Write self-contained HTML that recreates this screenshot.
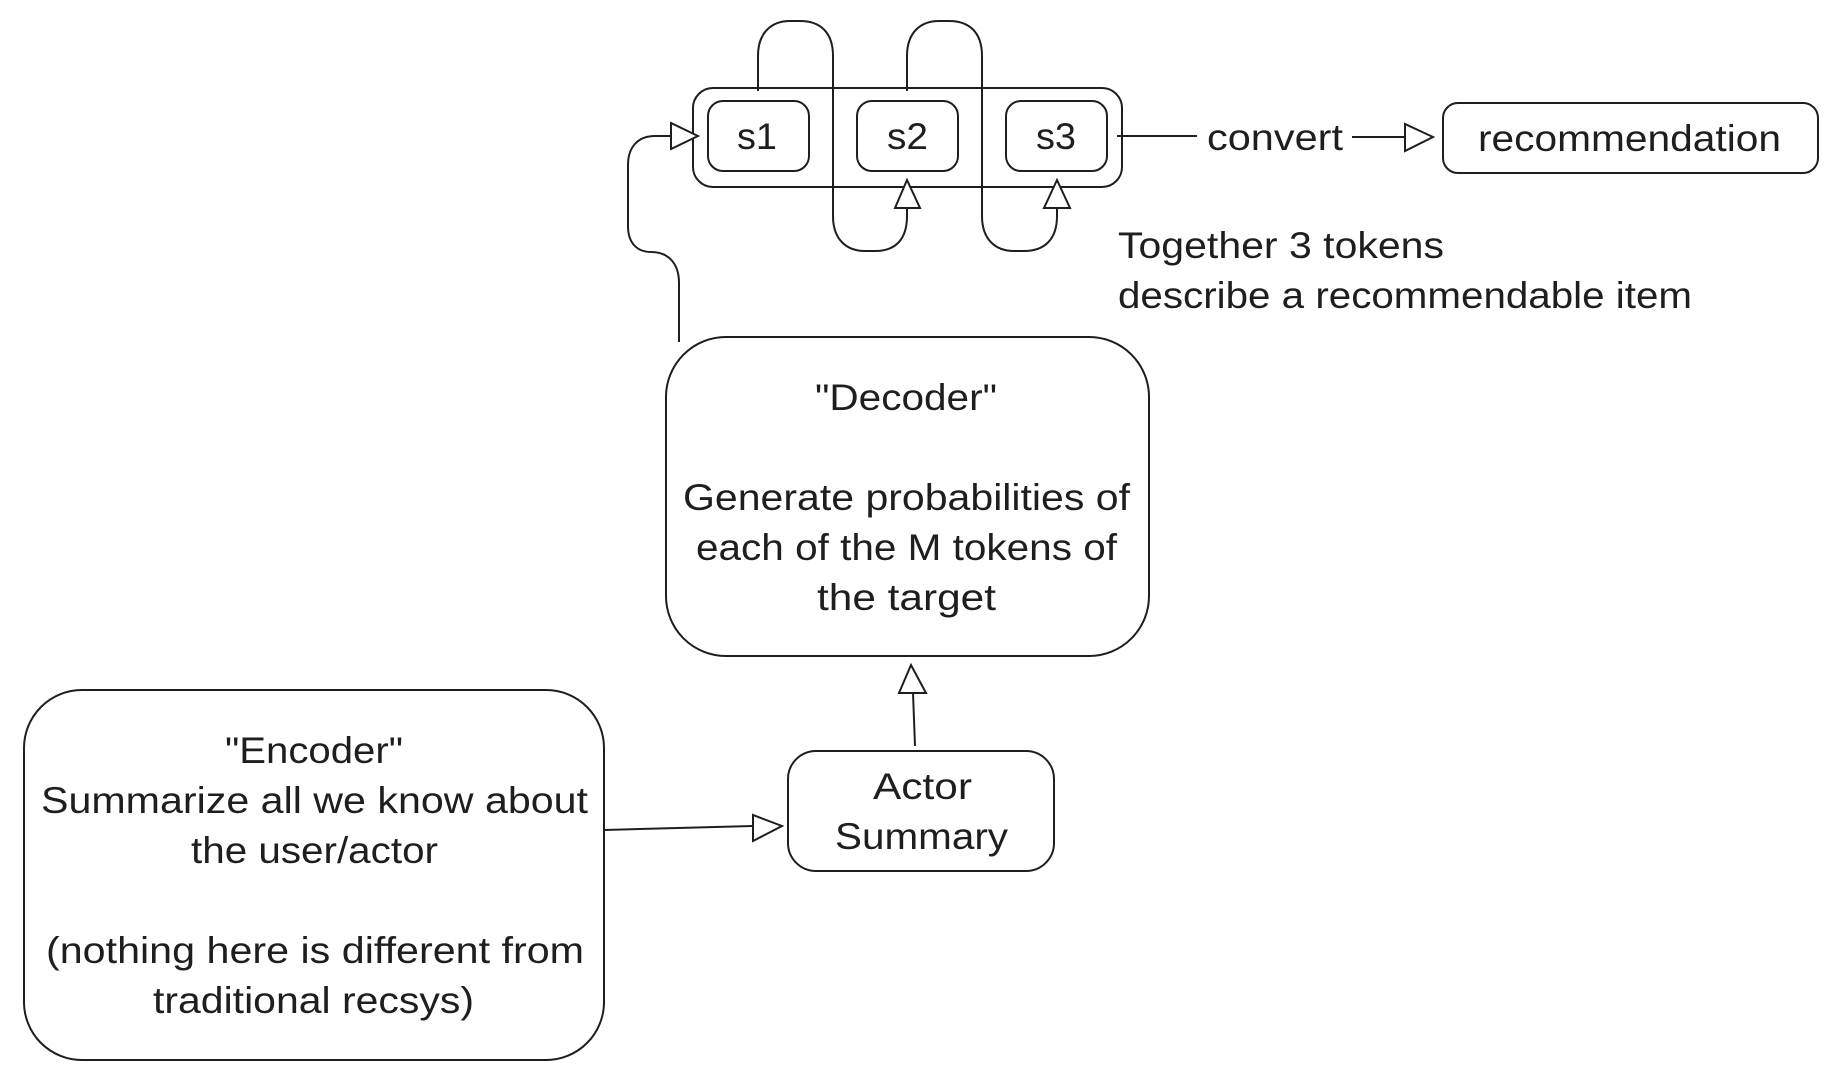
<!DOCTYPE html>
<html>
<head>
<meta charset="utf-8">
<style>
html,body{margin:0;padding:0;background:#fff;width:1834px;height:1090px;overflow:hidden}
svg{display:block}
text{font-family:"Liberation Sans",sans-serif;font-size:37.5px;fill:#1e1e1e}
.b{fill:none;stroke:#1e1e1e;stroke-width:2}
.a{fill:#fff;stroke:#1e1e1e;stroke-width:2;stroke-linejoin:miter}
</style>
</head>
<body>
<svg width="1834" height="1090" viewBox="0 0 1834 1090" xmlns="http://www.w3.org/2000/svg">
<rect width="1834" height="1090" fill="#fff"/>

<!-- boxes -->
<rect class="b" x="693" y="88" width="429" height="99" rx="20"/>
<rect class="b" x="708" y="101" width="101" height="70" rx="15"/>
<rect class="b" x="857" y="101" width="101" height="70" rx="15"/>
<rect class="b" x="1006" y="101" width="101" height="70" rx="15"/>
<rect class="b" x="1443" y="103" width="375" height="70" rx="15"/>
<rect class="b" x="666" y="337" width="483" height="319" rx="60"/>
<rect class="b" x="788" y="751" width="266" height="120" rx="28"/>
<rect class="b" x="24" y="690" width="580" height="370" rx="58"/>

<!-- connectors -->
<path class="b" d="M758 91 V56 C758 32 772 21 790 21 H800 C820 21 833 32 833 56 V216 C833 240 847 251 865 251 H875 C895 251 907 240 907 216 V208"/>
<path class="b" d="M907 91 V56 C907 32 921 21 939 21 H949 C969 21 982 32 982 56 V216 C982 240 996 251 1014 251 H1024 C1044 251 1057 240 1057 216 V208"/>
<path class="b" d="M679 342 V283 C679 263 668 252 651 252 C637 252 628 243 628 226 V165 C628 147 638 136 655 136 H671"/>
<path class="b" d="M1117 136 H1197"/>
<path class="b" d="M1352 137 H1405"/>
<path class="b" d="M915 746 L913 693"/>
<path class="b" d="M604 830 L753 826"/>

<!-- arrowheads -->
<polygon class="a" points="907,180 895,208 920,208"/>
<polygon class="a" points="1057,180 1044,208 1070,208"/>
<polygon class="a" points="698,136 671,123 671,149"/>
<polygon class="a" points="1433,137 1405,124 1405,151"/>
<polygon class="a" points="911,665 899,693 926,693"/>
<polygon class="a" points="782,826 753,815 753,841"/>

<!-- labels -->
<text x="737" y="149" textLength="40" lengthAdjust="spacingAndGlyphs">s1</text>
<text x="887" y="149" textLength="41" lengthAdjust="spacingAndGlyphs">s2</text>
<text x="1036" y="149" textLength="40" lengthAdjust="spacingAndGlyphs">s3</text>
<text x="1207" y="150" textLength="136" lengthAdjust="spacingAndGlyphs">convert</text>
<text x="1478" y="151" textLength="303" lengthAdjust="spacingAndGlyphs">recommendation</text>
<text x="1118" y="258" textLength="326" lengthAdjust="spacingAndGlyphs">Together 3 tokens</text>
<text x="1118" y="308" textLength="574" lengthAdjust="spacingAndGlyphs">describe a recommendable item</text>

<text x="815" y="410" textLength="182" lengthAdjust="spacingAndGlyphs">"Decoder"</text>
<text x="683" y="510" textLength="447" lengthAdjust="spacingAndGlyphs">Generate probabilities of</text>
<text x="696" y="560" textLength="421" lengthAdjust="spacingAndGlyphs">each of the M tokens of</text>
<text x="817" y="610" textLength="179" lengthAdjust="spacingAndGlyphs">the target</text>

<text x="873" y="799" textLength="99" lengthAdjust="spacingAndGlyphs">Actor</text>
<text x="835" y="849" textLength="173" lengthAdjust="spacingAndGlyphs">Summary</text>

<text x="225" y="763" textLength="178" lengthAdjust="spacingAndGlyphs">"Encoder"</text>
<text x="41" y="813" textLength="547" lengthAdjust="spacingAndGlyphs">Summarize all we know about</text>
<text x="191" y="863" textLength="247" lengthAdjust="spacingAndGlyphs">the user/actor</text>
<text x="46" y="963" textLength="538" lengthAdjust="spacingAndGlyphs">(nothing here is different from</text>
<text x="153" y="1013" textLength="321" lengthAdjust="spacingAndGlyphs">traditional recsys)</text>
</svg>
</body>
</html>
